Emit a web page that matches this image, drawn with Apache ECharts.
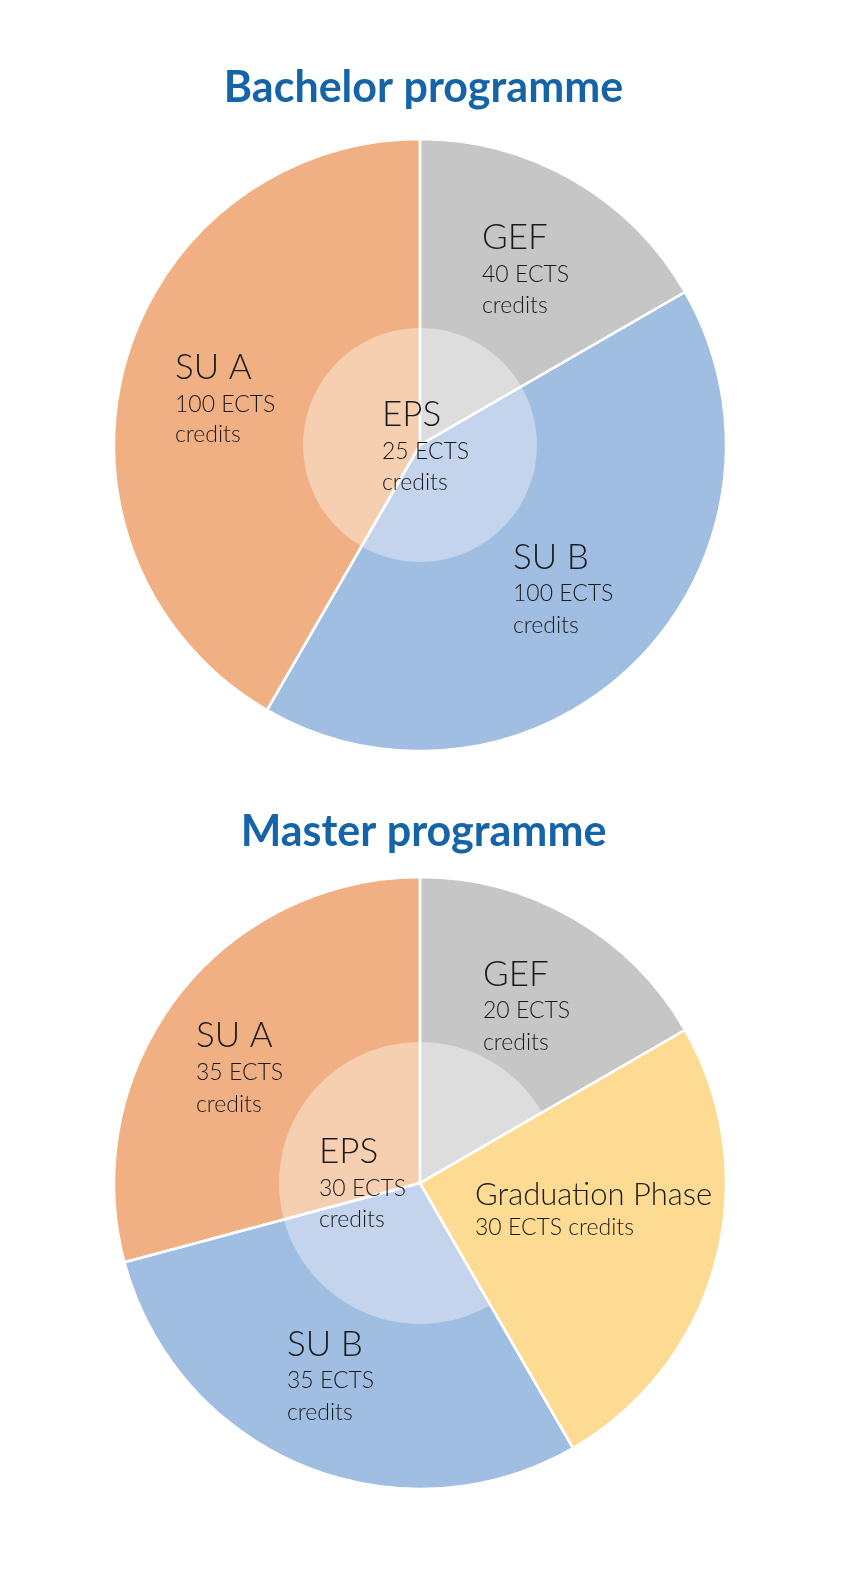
<!DOCTYPE html>
<html>
<head>
<meta charset="utf-8">
<script src="https://cdn.jsdelivr.net/npm/echarts@6/dist/echarts.min.js"></script>
<style>
html,body{margin:0;padding:0;background:#fff;}
#chart{width:847px;height:1580px;}
</style>
</head>
<body>
<div id="chart"></div>
<script>
// ---- Data ----
const bachelorTitle = 'Bachelor programme';
const bachelorNames = ['GEF', 'SU B', 'SU A'];
const bachelorValues = [40, 100, 100];
const bachelorEPS = 25;

const masterTitle = 'Master programme';
const masterNames = ['GEF', 'Graduation Phase', 'SU B', 'SU A'];
const masterValues = [20, 30, 35, 35];
const masterEPS = 30;

// ---- Styles ----
const outerColors = {'GEF':'#C6C6C6','SU A':'#F0B084','SU B':'#A0BEE1','Graduation Phase':'#FDDB93'};
const innerColors = {'GEF':'#DDDDDD','SU A':'#F6CEB0','SU B':'#C3D4EC','Graduation Phase':'#FDDB93'};
const FONT = 'Lato, "Noto Sans", sans-serif';
const TITLE_COLOR = '#1564A7';

function pieLayers(names, values, center, innerR) {
  const outer = names.map((n,i)=>({name:n, value:values[i], itemStyle:{color:outerColors[n]}}));
  const inner = names.map((n,i)=>({name:n, value:values[i], itemStyle:{color:innerColors[n]}}));
  const lines = names.map((n,i)=>({name:n, value:values[i]}));
  const common = {type:'pie', center:center, startAngle:90, clockwise:true, silent:true,
    label:{show:false}, labelLine:{show:false}, animation:false};
  return [
    Object.assign({}, common, {radius:[0,306], data:outer, z:1, itemStyle:{borderWidth:0}}),
    Object.assign({}, common, {radius:[0,innerR], data:inner, z:2, itemStyle:{borderWidth:0}}),
    Object.assign({}, common, {radius:[0,306], data:lines, z:3,
      itemStyle:{color:'rgba(0,0,0,0)', borderColor:'#ffffff', borderWidth:2.5}})
  ];
}

function labelBlock(big, small, x, lineYs, bigSize) {
  const bs = bigSize || 35;
  const els = [{type:'text', left:x, top:lineYs[0]-Math.round(bs*0.57), z:10,
    style:{text:big, font:'300 '+bs+'px '+FONT, fill:'#1a1a1a'}}];
  small.forEach((s,k)=>{
    els.push({type:'text', left:x, top:lineYs[k+1]-14, z:10,
      style:{text:s, font:'300 23px '+FONT, fill:'#1a1a1a'}});
  });
  return els;
}

const D = 4;
const graphics = [].concat(
  labelBlock(bachelorNames[0], [bachelorValues[0]+' ECTS','credits'], 482, [236+D,273+D,304+D]),
  labelBlock(bachelorNames[2], [bachelorValues[2]+' ECTS','credits'], 175, [366+D,403+D,433+D]),
  labelBlock('EPS', [bachelorEPS+' ECTS','credits'], 382, [413+D,450+D,481+D]),
  labelBlock(bachelorNames[1], [bachelorValues[1]+' ECTS','credits'], 513, [556+D,592+D,624+D]),
  labelBlock(masterNames[0], [masterValues[0]+' ECTS','credits'], 483, [973+D,1009+D,1041+D]),
  labelBlock(masterNames[3], [masterValues[3]+' ECTS','credits'], 196, [1034+D,1071+D,1103+D]),
  labelBlock('EPS', [masterEPS+' ECTS','credits'], 319, [1150+D,1187+D,1218+D]),
  labelBlock(masterNames[1], [masterValues[1]+' ECTS credits'], 475, [1193+D,1226+D], 31),
  labelBlock(masterNames[2], [masterValues[2]+' ECTS','credits'], 287, [1343+D,1379+D,1411+D])
);

const chart = echarts.init(document.getElementById('chart'), null, {renderer:'canvas'});
chart.setOption({
  backgroundColor:'#ffffff',
  animation:false,
  title:[
    {text:bachelorTitle, left:'center', top:62,
      textStyle:{fontFamily:FONT, fontWeight:'bold', fontSize:43, color:TITLE_COLOR}},
    {text:masterTitle, left:'center', top:806,
      textStyle:{fontFamily:FONT, fontWeight:'bold', fontSize:43, color:TITLE_COLOR}}
  ],
  series:[].concat(
    pieLayers(bachelorNames, bachelorValues, [420,445], 117),
    pieLayers(masterNames, masterValues, [420,1183], 141)
  ),
  graphic:graphics
});
</script>
</body>
</html>
